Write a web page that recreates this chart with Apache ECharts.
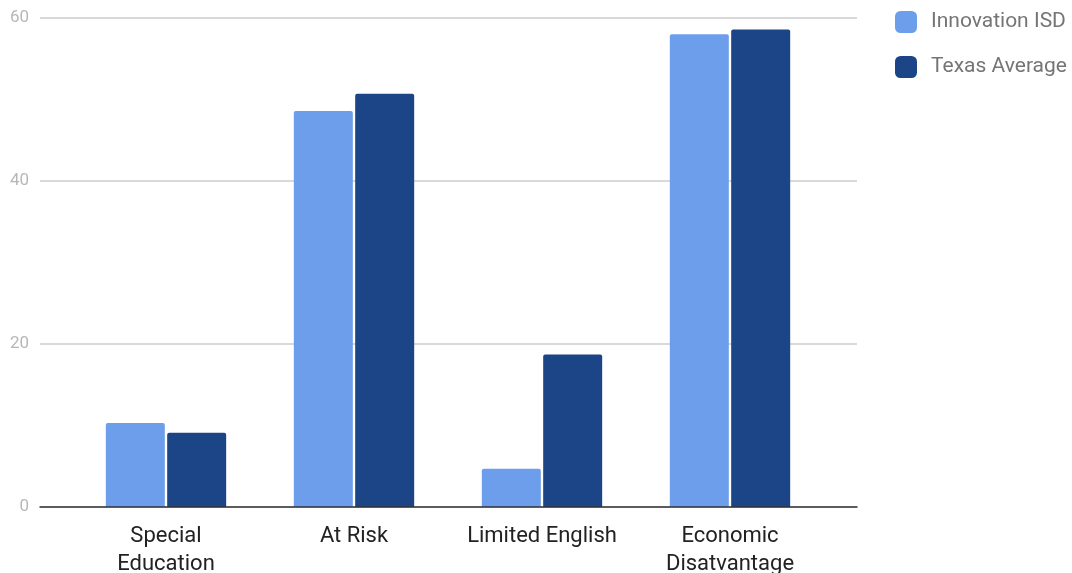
<!DOCTYPE html>
<html>
<head>
<meta charset="utf-8">
<script src="https://cdn.jsdelivr.net/npm/echarts@6/dist/echarts.min.js"></script>
<style>html,body{margin:0;padding:0;background:#fff;}#c{width:1072px;height:573px;}</style>
</head>
<body>
<div id="c"></div>
<script>
const categories = ['Special\nEducation', 'At Risk', 'Limited English', 'Economic\nDisatvantage'];
const innovation = [10.3, 48.6, 4.7, 58.0];
const texas = [9.1, 50.7, 18.7, 58.6];
const yTicks = [0, 20, 40, 60];

const chart = echarts.init(document.getElementById('c'));
const font = 'Roboto, "Noto Sans", sans-serif';
chart.setOption({
  animation: false,
  textStyle: { fontFamily: font },
  legend: {
    orient: 'vertical', left: 890, top: 6,
    itemWidth: 22, itemHeight: 22, itemGap: 23,
    icon: 'roundRect',
    textStyle: { fontSize: 21, color: '#757575', fontFamily: font, padding: [0, 0, 0, 9] },
    data: ['Innovation ISD', 'Texas Average']
  },
  grid: [
    { left: 40, right: 215, top: 18, bottom: 66, containLabel: false, outerBoundsMode: 'none' },
    { left: 72, right: 248, top: 18, bottom: 66, containLabel: false, outerBoundsMode: 'none' }
  ],
  xAxis: [
    { gridIndex: 0, type: 'category', data: [''], axisLine: { show: true, lineStyle: { color: '#333', width: 1.5 } },
      axisTick: { show: false }, axisLabel: { show: false }, z: 5 },
    { gridIndex: 1, type: 'category', data: categories,
      axisLine: { show: false }, axisTick: { show: false },
      axisLabel: { fontSize: 22, color: '#222', lineHeight: 28, margin: 15, fontFamily: font, interval: 0 } }
  ],
  yAxis: [
    { gridIndex: 0, type: 'value', min: yTicks[0], max: yTicks[yTicks.length - 1], interval: 20,
      axisLine: { show: false }, axisTick: { show: false },
      axisLabel: { fontSize: 17, color: '#b7b7b7', margin: 11, fontFamily: font },
      splitLine: { lineStyle: { color: '#cccccc', width: 1.5 } } },
    { gridIndex: 1, type: 'value', min: yTicks[0], max: yTicks[yTicks.length - 1], interval: 20,
      show: false, splitLine: { show: false } }
  ],
  series: [
    { name: 'Innovation ISD', type: 'bar', xAxisIndex: 1, yAxisIndex: 1, data: innovation,
      barWidth: 59, barGap: '4%', itemStyle: { color: '#6d9eeb', borderRadius: [2, 2, 0, 0] } },
    { name: 'Texas Average', type: 'bar', xAxisIndex: 1, yAxisIndex: 1, data: texas,
      barWidth: 59, barGap: '4%', itemStyle: { color: '#1c4587', borderRadius: [2, 2, 0, 0] } }
  ]
});
</script>
</body>
</html>
